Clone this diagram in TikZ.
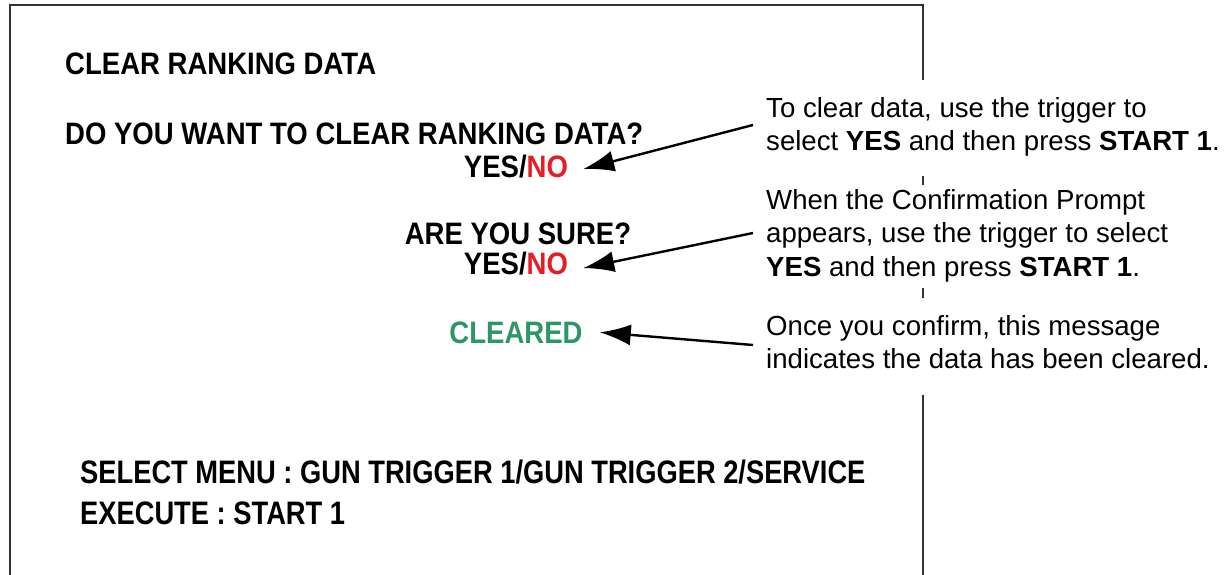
\documentclass[tikz,border=0pt]{standalone}
\usepackage{fontspec}
\setmainfont{Liberation Sans}
\newfontfamily\scrfont[FakeStretch=0.888]{Liberation Sans}
\newfontfamily\menufont[FakeStretch=0.84]{Liberation Sans}
\usetikzlibrary{arrows.meta}
\definecolor{nored}{RGB}{228,30,36}
\definecolor{okgreen}{RGB}{44,150,100}
\definecolor{framegray}{RGB}{50,50,50}
\begin{document}
\begin{tikzpicture}[x=1pt,y=-1pt,
  hd/.style={inner sep=0pt, font=\scrfont\bfseries\fontsize{31}{36}\selectfont},
  ft/.style={inner sep=0pt, font=\menufont\bfseries\fontsize{32.5}{38}\selectfont},
  note/.style={inner sep=0pt, anchor=north west, align=left, font=\fontsize{27.6}{33.5}\selectfont},
  arr/.style={line width=2.4pt, -{Latex[length=31pt,width=21pt]}}]
\useasboundingbox (0,0) rectangle (1228,575);
\fill[white] (0,0) rectangle (1228,575);
% screen frame
\draw[framegray, line width=2pt] (10,577) -- (10,5) -- (923,5) -- (923,577);
\fill[white] (905,80) rectangle (940,176);
\fill[white] (905,185) rectangle (940,288);
\fill[white] (905,298) rectangle (940,395);
% screen texts
\node[hd,anchor=base west] (title) at (65,75) {CLEAR RANKING DATA};
\node[hd,anchor=base west] (q1) at (65,144) {DO YOU WANT TO CLEAR RANKING DATA?};
\node[hd,anchor=base] (yn1) at (516,177) {YES/\textcolor{nored}{NO}};
\node[hd,anchor=base] (q2) at (518,244) {ARE YOU SURE?};
\node[hd,anchor=base] (yn2) at (516,274) {YES/\textcolor{nored}{NO}};
\node[hd,anchor=base,text=okgreen] (clr) at (516,343) {CLEARED};
\node[ft,anchor=base west] (m1) at (80,483) {SELECT MENU : GUN TRIGGER 1/GUN TRIGGER 2/SERVICE};
\node[ft,anchor=base west] (m2) at (80,524) {EXECUTE : START 1};
% callouts
\node[note] (c1) at (766,97) {To clear data, use the trigger to\\select \textbf{YES} and then press \textbf{START 1}.};
\node[note] (c2) at (766,189) {When the Confirmation Prompt\\appears, use the trigger to select\\\textbf{YES} and then press \textbf{START 1}.};
\node[note] (c3) at (766,315) {Once you confirm, this message\\indicates the data has been cleared.};
\coordinate (s1) at (753,125);
\coordinate (s2) at (753,233);
\coordinate (s3) at (753,345);
\draw[arr] (s1) -- ([xshift=15pt,yshift=-3pt]yn1.east);
\draw[arr] (s2) -- ([xshift=15pt,yshift=-5pt]yn2.east);
\draw[arr] (s3) -- ([xshift=17pt]clr.east);
\end{tikzpicture}
\end{document}
